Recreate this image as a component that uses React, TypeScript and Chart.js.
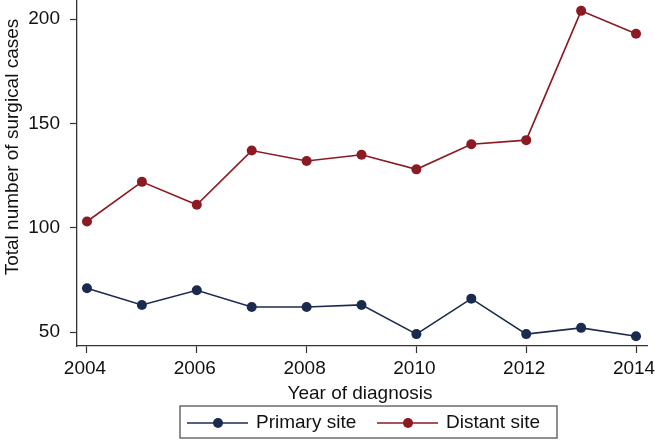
import React, { useEffect, useRef } from "react";
import { Chart, registerables } from "chart.js";

Chart.register(...registerables);

const years = [2004, 2005, 2006, 2007, 2008, 2009, 2010, 2011, 2012, 2013, 2014];
const primarySite = [71, 63, 70, 62, 62, 63, 49, 66, 49, 52, 48];
const distantSite = [103, 122, 111, 137, 132, 135, 128, 140, 142, 204, 193];
const xTicks = [2004, 2006, 2008, 2010, 2012, 2014];
const yTicks = [50, 100, 150, 200];
const seriesLabels = ["Primary site", "Distant site"];
const xTitle = "Year of diagnosis";
const yTitle = "Total number of surgical cases";

const NAVY = "#1b2b50";
const RED = "#8b1a23";
const AXIS = "#333333";
const TEXT = "#111111";
const FONT = "'Liberation Sans', Arial, Helvetica, sans-serif";
const FS = 19;

export default function App() {
  const ref = useRef<HTMLCanvasElement | null>(null);

  useEffect(() => {
    document.body.style.margin = "0";
    const canvas = ref.current;
    if (!canvas) return;

    const annotate = {
      id: "annotate",
      afterDraw(chart: any) {
        const ctx = chart.ctx as CanvasRenderingContext2D;
        const area = chart.chartArea;
        ctx.save();
        ctx.fillStyle = TEXT;
        ctx.font = `${FS}px ${FONT}`;
        // y title
        ctx.save();
        ctx.translate(18, 147);
        ctx.rotate(-Math.PI / 2);
        ctx.textAlign = "center";
        ctx.textBaseline = "alphabetic";
        ctx.fillText(yTitle, 0, 0);
        ctx.restore();
        // x title
        ctx.textAlign = "center";
        ctx.textBaseline = "alphabetic";
        ctx.fillText(xTitle, (area.left + area.right) / 2 - 2, 399);
        // legend box
        const bx = 180, by = 406, bw = 377, bh = 32;
        ctx.strokeStyle = "#6b6b6b";
        ctx.lineWidth = 1.5;
        ctx.strokeRect(bx, by, bw, bh);
        const ly = by + bh / 2 + 1;
        const entries = [
          { color: NAVY, x0: 187, label: seriesLabels[0] },
          { color: RED, x0: 377, label: seriesLabels[1] },
        ];
        for (const e of entries) {
          ctx.strokeStyle = e.color;
          ctx.lineWidth = 1.6;
          ctx.beginPath();
          ctx.moveTo(e.x0, ly);
          ctx.lineTo(e.x0 + 61, ly);
          ctx.stroke();
          ctx.fillStyle = e.color;
          ctx.beginPath();
          ctx.arc(e.x0 + 31, ly, 5, 0, Math.PI * 2);
          ctx.fill();
          ctx.fillStyle = TEXT;
          ctx.textAlign = "left";
          ctx.textBaseline = "middle";
          ctx.fillText(e.label, e.x0 + 69, ly);
        }
        ctx.restore();
      },
    };

    const mk = (vals: number[]) => years.map((x, i) => ({ x, y: vals[i] }));

    const chart = new Chart(canvas, {
      type: "line",
      data: {
        datasets: [
          {
            label: seriesLabels[1],
            data: mk(distantSite),
            borderColor: RED,
            backgroundColor: RED,
            borderWidth: 1.6,
            pointRadius: 5,
            pointBorderWidth: 0,
            pointBackgroundColor: RED,
            tension: 0,
            clip: false,
          },
          {
            label: seriesLabels[0],
            data: mk(primarySite),
            borderColor: NAVY,
            backgroundColor: NAVY,
            borderWidth: 1.6,
            pointRadius: 5,
            pointBorderWidth: 0,
            pointBackgroundColor: NAVY,
            tension: 0,
            clip: false,
          },
        ],
      },
      options: {
        animation: false,
        responsive: false,
        devicePixelRatio: 1,
        layout: { autoPadding: false, padding: { left: 0, right: 8, top: 0, bottom: 0 } },
        plugins: { legend: { display: false }, tooltip: { enabled: false } },
        scales: {
          x: {
            type: "linear",
            min: 2003.818,
            max: 2014.2,
            afterBuildTicks: (s: any) => {
              s.ticks = xTicks.map((v) => ({ value: v }));
            },
            afterFit: (s: any) => {
              s.height = 94;
              s.paddingLeft = 0;
              s.paddingRight = 0;
            },
            ticks: {
              font: { family: FONT, size: FS },
              color: TEXT,
              padding: 4,
              labelOffset: -2,
              maxRotation: 0,
              autoSkip: false,
              callback: (v: any) => String(v),
            },
            grid: {
              drawOnChartArea: false,
              drawTicks: true,
              tickLength: 7,
              tickColor: AXIS,
              tickWidth: 1.2,
            },
            border: { display: true, color: AXIS, width: 1.3 },
          },
          y: {
            type: "linear",
            min: 43.3,
            max: 209.2,
            afterBuildTicks: (s: any) => {
              s.ticks = yTicks.map((v) => ({ value: v }));
            },
            afterFit: (s: any) => {
              s.width = 77;
              s.paddingTop = 0;
              s.paddingBottom = 0;
            },
            ticks: {
              font: { family: FONT, size: FS },
              color: TEXT,
              padding: 10,
              autoSkip: false,
              callback: (v: any) => String(v),
            },
            grid: {
              drawOnChartArea: false,
              drawTicks: true,
              tickLength: 7,
              tickColor: AXIS,
              tickWidth: 1.2,
            },
            border: { display: true, color: AXIS, width: 1.3 },
          },
        },
      },
      plugins: [annotate],
    });

    return () => chart.destroy();
  }, []);

  return (
    <div style={{ width: 655, height: 440, background: "#fff" }}>
      <canvas ref={ref} width={655} height={440} style={{ display: "block" }} />
    </div>
  );
}
